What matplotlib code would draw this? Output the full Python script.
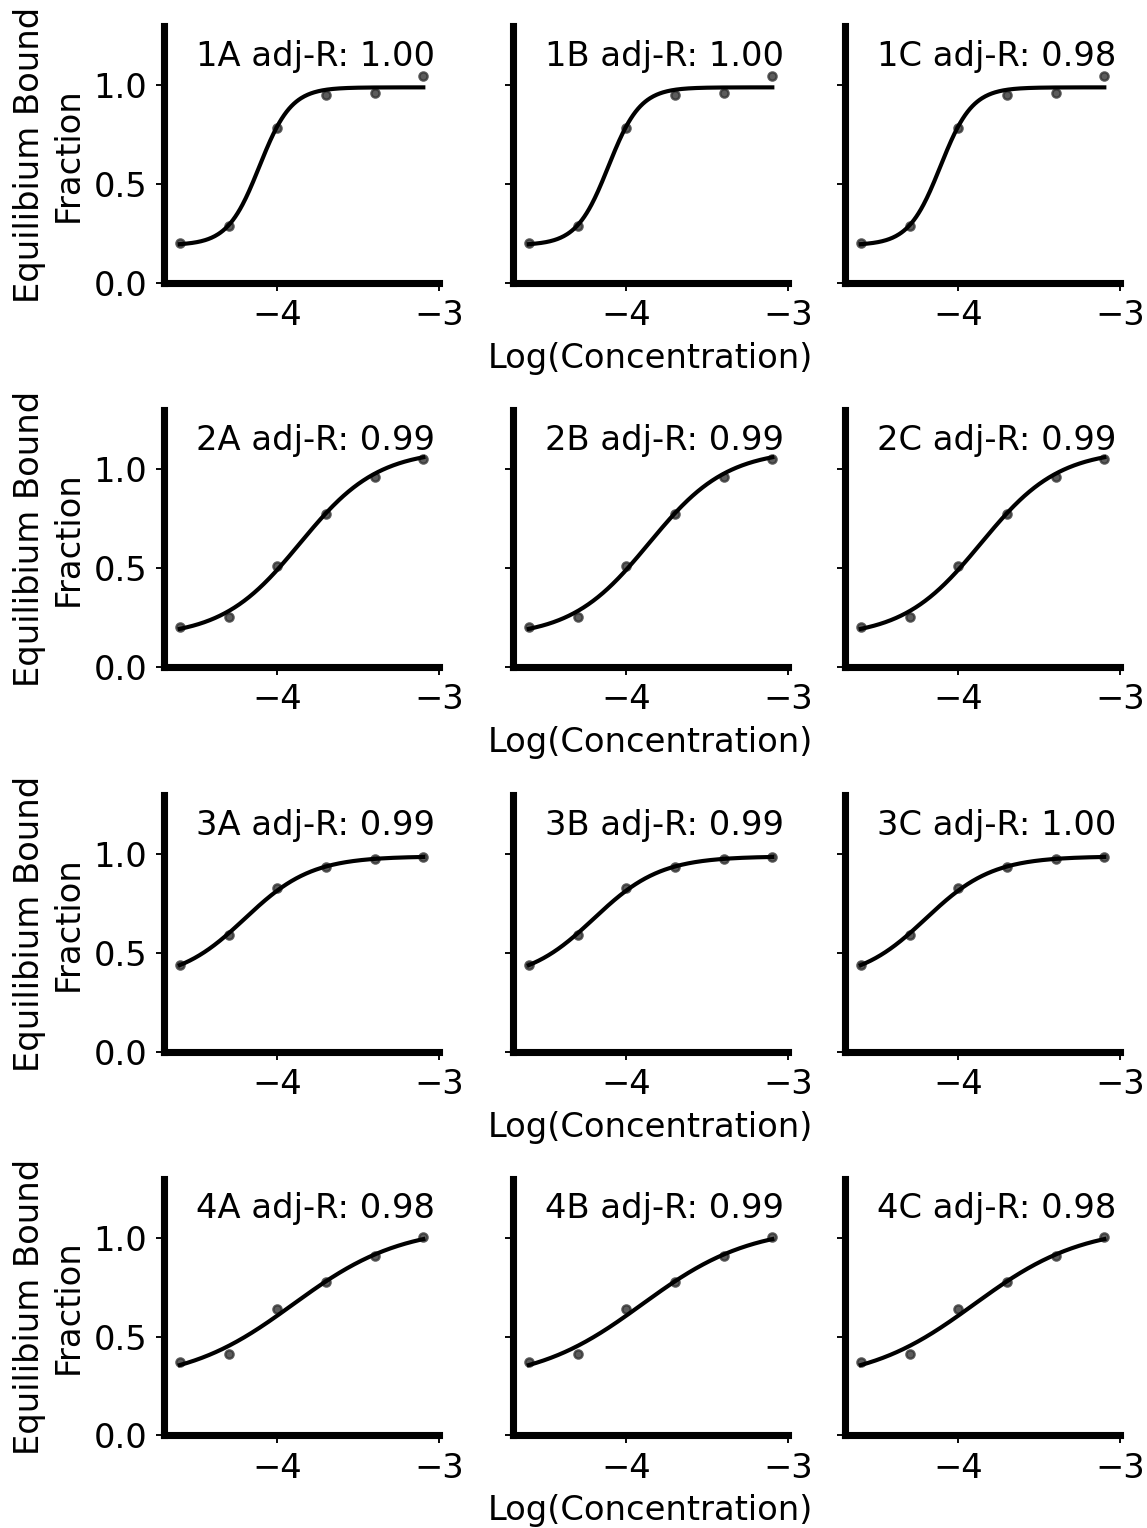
import numpy as np
import matplotlib
matplotlib.use("Agg")
from matplotlib import pyplot as plt

# concentrations (M), same dilution series for every panel
concentrations = [2.5e-5, 5e-5, 1e-4, 2e-4, 4e-4, 8e-4]

# measured bound fraction per row (columns A, B, C share the same points)
row1_fraction = [0.200, 0.287, 0.786, 0.949, 0.963, 1.047]
row2_fraction = [0.203, 0.251, 0.511, 0.774, 0.961, 1.054]
row3_fraction = [0.438, 0.591, 0.830, 0.934, 0.977, 0.988]
row4_fraction = [0.371, 0.410, 0.642, 0.779, 0.908, 1.003]

# fitted 4-parameter logistic: bottom, top, logEC50, hill
row1_fit = [0.19, 0.99, -4.11, 4.4]
row2_fit = [0.15, 1.10, -3.86, 1.8]
row3_fit = [0.36, 0.99, -4.20, 2.1]
row4_fit = [0.27, 1.06, -3.90, 1.3]

panel_names = ["A", "B", "C"]
adj_r = [
    [1.00, 1.00, 0.98],
    [0.99, 0.99, 0.99],
    [0.99, 0.99, 1.00],
    [0.98, 0.99, 0.98],
]

rows_fraction = [row1_fraction, row2_fraction, row3_fraction, row4_fraction]
rows_fit = [row1_fit, row2_fit, row3_fit, row4_fit]


def logistic(x, bottom, top, logec50, hill):
    return bottom + (top - bottom) / (1 + 10 ** ((logec50 - x) * hill))


plt.rcParams['font.size'] = 14.3
plt.rcParams['font.family'] = ['DejaVu Sans']

W, H = 1147, 1528
fig = plt.figure(figsize=(W / 170, H / 170), dpi=170)

# axes boxes in pixels (left edge, bottom edge measured from top)
col_left = [164, 513, 845]
row_bottom = [282.7, 666.7, 1051.7, 1435.3]
ax_w, ax_h = 275, 256.5

log_conc = np.log10(concentrations)
xfit = np.linspace(log_conc[0], log_conc[-1], 300)

for r in range(4):
    for c in range(3):
        ax = fig.add_axes([col_left[c] / W, (H - row_bottom[r]) / H, ax_w / W, ax_h / H])
        bottom, top, ec, hill = rows_fit[r]
        ax.scatter(log_conc, rows_fraction[r], s=12, color='0.2', alpha=0.8, zorder=2)
        ax.plot(xfit, logistic(xfit, bottom, top, ec, hill), color='k', lw=1.75, zorder=3)
        ax.text(-4.5, 1.1, f"{r + 1}{panel_names[c]} adj-R: {adj_r[r][c]:.2f}")

        ax.set_xlim(-4.7, -3.0)
        ax.set_ylim(0, 1.3)
        ax.set_xticks([-4, -3])
        ax.set_yticks([0.0, 0.5, 1.0])
        ax.spines['top'].set_visible(False)
        ax.spines['right'].set_visible(False)
        ax.spines['left'].set_linewidth(3)
        ax.spines['bottom'].set_linewidth(3)

        if c == 0:
            ax.set_ylabel("Equilibium Bound\nFraction")
        else:
            ax.set_yticklabels([])
        if c == 1:
            ax.set_xlabel("Log(Concentration)")

fig.savefig("out.png", dpi=170)
